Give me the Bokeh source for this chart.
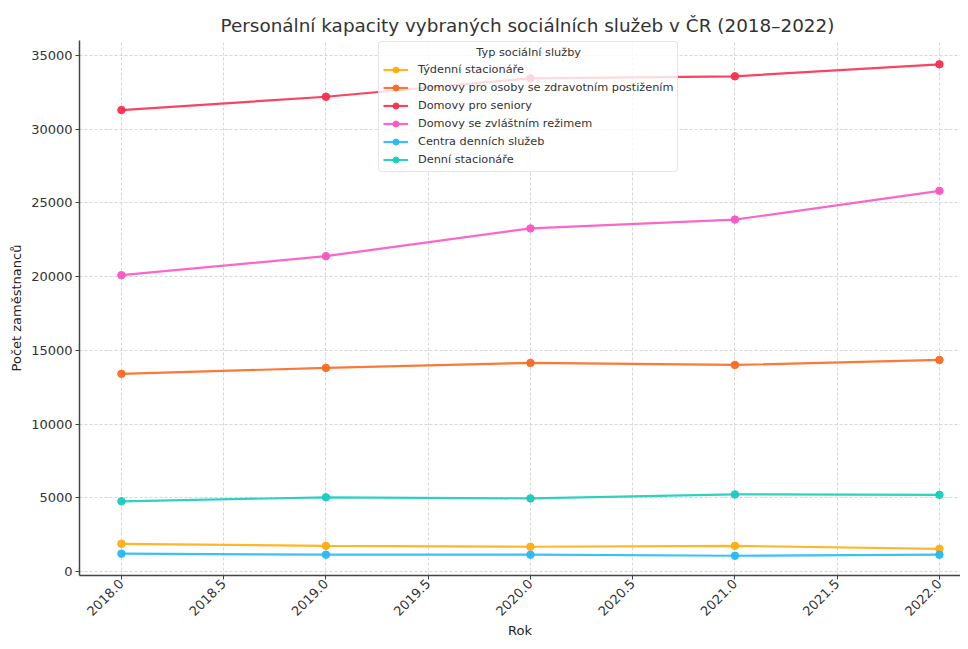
from bokeh.plotting import figure
from bokeh.models import FixedTicker, NumeralTickFormatter, BasicTickFormatter, Legend, LegendItem, Range1d
from bokeh.embed import file_html
from bokeh.resources import INLINE

years = [2018, 2019, 2020, 2021, 2022]
tydenni_stacionare = [1880, 1740, 1680, 1740, 1540]
domovy_zp = [13410, 13810, 14150, 14010, 14350]
domovy_seniory = [31300, 32200, 33450, 33590, 34400]
domovy_zvl_rezim = [20100, 21390, 23270, 23870, 25820]
centra_dennich = [1210, 1140, 1140, 1070, 1140]
denni_stacionare = [4760, 5030, 4960, 5230, 5200]

series_names = [
    "Týdenní stacionáře",
    "Domovy pro osoby se zdravotním postižením",
    "Domovy pro seniory",
    "Domovy se zvláštním režimem",
    "Centra denních služeb",
    "Denní stacionáře",
]
series_values = [tydenni_stacionare, domovy_zp, domovy_seniory, domovy_zvl_rezim, centra_dennich, denni_stacionare]
colors = ["#FFAE12", "#FA6A22", "#F8304F", "#FA55C4", "#26B9F8", "#19CBBC"]

x_ticks = [2018.0, 2018.5, 2019.0, 2019.5, 2020.0, 2020.5, 2021.0, 2021.5, 2022.0]
y_ticks = [0, 5000, 10000, 15000, 20000, 25000, 30000, 35000]

FONT = "DejaVu Sans"

p = figure(width=960, height=641, output_backend="svg", toolbar_location=None,
           x_range=Range1d(2017.795, 2022.103), y_range=Range1d(-271, 36017),
           min_border_left=79, min_border_right=0, min_border_top=40, min_border_bottom=40)
p.outline_line_color = None
p.background_fill_color = "white"

p.title.text = "Personální kapacity vybraných sociálních služeb v ČR (2018–2022)"
p.title.align = "left"
p.title.offset = 141
p.title.text_font = FONT
p.title.text_font_size = "18.4px"
p.title.text_font_style = "normal"
p.title.text_color = "#333333"

items = []
for name, vals, c in zip(series_names, series_values, colors):
    r1 = p.line(years, vals, line_color=c, line_width=2.2, line_alpha=0.9)
    r2 = p.scatter(years, vals, size=7.5, fill_color=c, line_color=c, alpha=0.95)
    items.append(LegendItem(label=name, renderers=[r1, r2]))

p.xaxis.ticker = FixedTicker(ticks=x_ticks)
p.xaxis.formatter = NumeralTickFormatter(format="0.0")
p.xaxis.major_label_orientation = 0.785398
p.yaxis.ticker = FixedTicker(ticks=y_ticks)
p.yaxis.formatter = BasicTickFormatter(use_scientific=False)
for ax in (p.xaxis, p.yaxis):
    ax.major_label_text_font = FONT
    ax.major_label_text_font_size = "13px"
    ax.major_label_text_color = "#333333"
    ax.axis_label_text_font = FONT
    ax.axis_label_text_font_size = "13px"
    ax.axis_label_text_font_style = "normal"
    ax.axis_label_text_color = "#222222"
    ax.axis_line_color = "#444444"
    ax.axis_line_width = 1.5
    ax.major_tick_line_color = "#444444"
    ax.major_tick_out = 4
    ax.major_tick_in = 0
    ax.minor_tick_line_color = None
    ax.major_label_standoff = 2
    ax.axis_label_standoff = 0
p.yaxis.axis_label_standoff = 4
p.yaxis.major_label_standoff = 3
p.xaxis.axis_label = "Rok"
p.yaxis.axis_label = "Počet zaměstnanců"

p.grid.grid_line_color = "#d6d6d6"
p.grid.grid_line_dash = "3 2"
p.grid.grid_line_width = 1

nb = "\u00a0"
legend = Legend(items=items, location=(299, 403))
legend.title = nb * 26 + "Typ sociální služby"
legend.title_text_font = FONT
legend.title_text_font_size = "11.3px"
legend.title_text_font_style = "normal"
legend.title_text_color = "#333333"
legend.title_standoff = 3
legend.label_text_font = FONT
legend.label_text_font_size = "11.3px"
legend.label_text_color = "#333333"
legend.glyph_width = 25
legend.glyph_height = 15
legend.label_height = 15
legend.spacing = 3
legend.label_standoff = 10
legend.padding = 4
legend.margin = 0
legend.border_line_color = "#cccccc"
legend.border_line_width = 1
legend.background_fill_alpha = 0.8
legend.border_radius = 4
p.add_layout(legend, "center")

open("out.html", "w").write(file_html(p, INLINE))
